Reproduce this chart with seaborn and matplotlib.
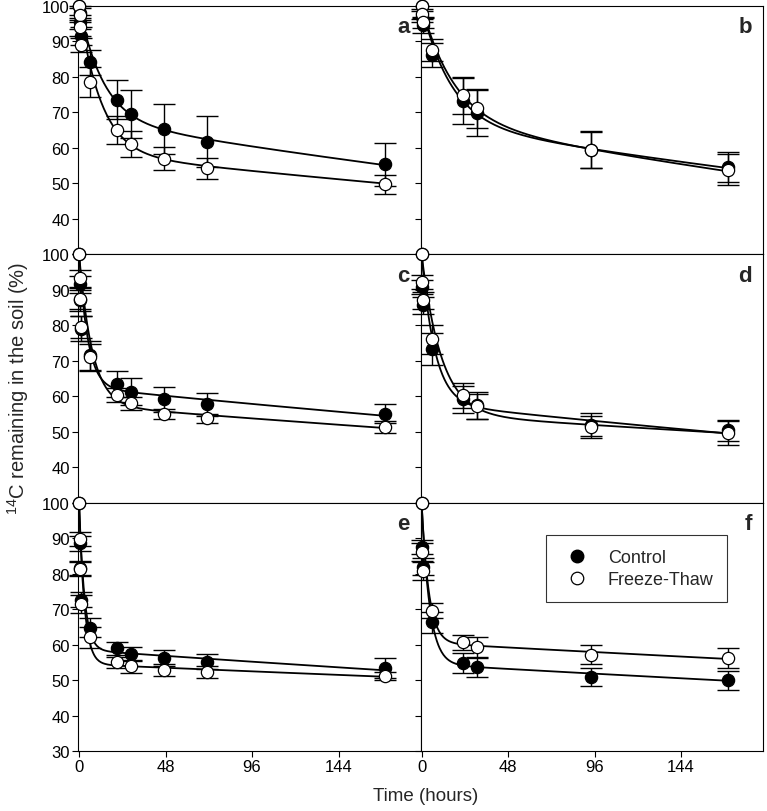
import numpy as np
import matplotlib
matplotlib.use("Agg")
import matplotlib.pyplot as plt
import seaborn as sns
from matplotlib.lines import Line2D

# sampling times (hours)
t_left = [0, 0.25, 0.5, 1, 6, 21, 29, 47, 71, 170]
t_right = [0, 0.25, 1, 6, 23, 30.5, 94, 170]

# panel a
a_ctrl = [100, 98.0, 95.5, 91.6, 84.1, 73.6, 69.5, 65.3, 61.8, 55.4]
a_ctrl_err = [0, 2.0, 2.0, 2.5, 3.5, 5.5, 6.8, 7.0, 7.2, 6.1]
a_ft = [100, 97.5, 94.0, 89.0, 78.6, 65.1, 61.2, 57.0, 54.2, 49.7]
a_ft_err = [0, 2.0, 2.5, 2.0, 4.2, 4.0, 3.7, 3.3, 3.0, 2.7]

# panel b
b_ctrl = [100, 97.0, 94.5, 86.2, 73.2, 69.8, 59.5, 54.6]
b_ctrl_err = [0, 1.5, 2.0, 3.5, 6.5, 6.5, 5.3, 4.2]
b_ft = [100, 97.7, 95.4, 87.6, 74.8, 71.2, 59.4, 53.9]
b_ft_err = [0, 1.5, 1.5, 3.0, 5.3, 5.5, 5.2, 4.3]

# panel c
c_ctrl = [100, 91.5, 87.0, 79.0, 71.5, 63.4, 61.2, 59.1, 57.7, 55.1]
c_ctrl_err = [0, 2.5, 3.0, 3.5, 4.0, 3.7, 3.8, 3.5, 3.3, 2.6]
c_ft = [100, 93.2, 87.5, 79.5, 71.0, 60.3, 58.0, 55.1, 53.8, 51.3]
c_ft_err = [0, 2.5, 3.0, 3.0, 3.8, 2.0, 1.8, 1.4, 1.3, 1.7]

# panel d
d_ctrl = [100, 90.8, 85.6, 73.3, 59.1, 57.4, 52.0, 50.4]
d_ctrl_err = [0, 2.0, 2.5, 4.5, 3.9, 3.8, 3.2, 3.0]
d_ft = [100, 92.2, 87.0, 76.0, 60.3, 57.2, 51.3, 49.6]
d_ft_err = [0, 2.0, 2.5, 4.0, 3.5, 3.5, 3.0, 3.3]

# panel e
e_ctrl = [100, 88.5, 81.5, 72.7, 64.8, 58.9, 57.4, 56.2, 55.1, 53.4]
e_ctrl_err = [0, 2.0, 2.0, 2.0, 2.8, 1.8, 2.0, 2.2, 2.1, 2.8]
e_ft = [100, 89.8, 81.3, 71.5, 62.0, 55.0, 53.9, 52.8, 52.2, 51.1]
e_ft_err = [0, 2.0, 2.0, 2.5, 2.9, 1.6, 1.8, 1.6, 1.7, 1.2]

# panel f
f_ctrl = [100, 87.5, 82.0, 66.3, 54.8, 53.6, 50.8, 49.9]
f_ctrl_err = [0, 2.0, 2.5, 3.0, 2.7, 2.7, 2.6, 2.6]
f_ft = [100, 86.0, 80.8, 69.6, 60.6, 59.3, 57.1, 56.2]
f_ft_err = [0, 2.5, 2.5, 2.2, 2.0, 2.8, 2.7, 2.8]

panels = [
    ("a", t_left, a_ctrl, a_ctrl_err, a_ft, a_ft_err),
    ("b", t_right, b_ctrl, b_ctrl_err, b_ft, b_ft_err),
    ("c", t_left, c_ctrl, c_ctrl_err, c_ft, c_ft_err),
    ("d", t_right, d_ctrl, d_ctrl_err, d_ft, d_ft_err),
    ("e", t_left, e_ctrl, e_ctrl_err, e_ft, e_ft_err),
    ("f", t_right, f_ctrl, f_ctrl_err, f_ft, f_ft_err),
]

# two-pool model y = (100-B) exp(-k1 t) + B exp(-k2 t), grid of parameters
K1, K2, BB = np.meshgrid(np.logspace(-1.3, 1.7, 70),
                         np.concatenate([[0], np.logspace(-4.5, -1.5, 50)]),
                         np.linspace(40, 95, 111), indexing="ij")
K1, K2, BB = K1.ravel(), K2.ravel(), BB.ravel()
SX, SY = 1.8, 3.54   # pixels per hour / per percent


def fit_two_pool(t, y):
    # minimise the (approximate) perpendicular distance as seen on the plot
    t = np.asarray(t, float)[None, :]
    y = np.asarray(y, float)[None, :]
    A = (100 - BB)[:, None]
    e1 = np.exp(-K1[:, None] * t)
    e2 = np.exp(-K2[:, None] * t)
    f = A * e1 + BB[:, None] * e2
    df = -K1[:, None] * A * e1 - K2[:, None] * BB[:, None] * e2
    d = SY * (f - y) / np.sqrt(1 + (SY * df / SX) ** 2)
    j = np.argmin((d ** 2).sum(axis=1))
    tt = np.concatenate([np.linspace(0, 10, 300), np.linspace(10, t.max(), 300)])
    return tt, (100 - BB[j]) * np.exp(-K1[j] * tt) + BB[j] * np.exp(-K2[j] * tt)


sns.set_style("ticks")
plt.rcParams["font.family"] = ["Liberation Sans", "DejaVu Sans"]
plt.rcParams["mathtext.fontset"] = "custom"
plt.rcParams["mathtext.rm"] = "Liberation Sans"
plt.rcParams["mathtext.default"] = "regular"

fig, axes = plt.subplots(3, 2, figsize=(7.67, 8.12), dpi=100,
                         gridspec_kw=dict(wspace=0, hspace=0))
fig.subplots_adjust(left=0.1017, right=0.9948, top=0.9914, bottom=0.0739)

for i, (ax, (lab, t, yc, ec, yf, ef)) in enumerate(zip(axes.flat, panels)):
    row, col = divmod(i, 2)
    t = np.asarray(t, float)

    for y in (yc, yf):
        tt, yy = fit_two_pool(t, y)
        sns.lineplot(x=tt, y=yy, color="black", lw=1.3, ax=ax, zorder=2,
                     sort=False, estimator=None)

    for y, e, face in ((yc, ec, "black"), (yf, ef, "white")):
        y = np.asarray(y, float)
        e = np.asarray(e, float)
        m = e > 0
        eb = ax.errorbar(t[m], y[m], yerr=e[m], fmt="none", ecolor="black",
                         elinewidth=1.0, capsize=7.8, capthick=1.0, zorder=3)
        for art in eb.lines[1] + eb.lines[2]:
            art.set_clip_on(False)
        sns.scatterplot(x=t, y=y, s=78, color=face, edgecolor="black",
                        linewidth=0.9, ax=ax, zorder=4)
        ax.collections[-1].set_clip_on(False)

    ax.set_xlim(-0.6, 189.5)
    ax.set_ylim(30, 100)
    ax.set_yticks(range(30, 101, 10))
    if col == 0:
        labels = [str(v) for v in range(30, 101, 10)]
        if row < 2:
            labels[0] = ""
        ax.set_yticklabels(labels)
    else:
        ax.set_yticklabels([])
    ax.set_xticks([0, 48, 96, 144])
    if row < 2:
        ax.tick_params(axis="x", bottom=False, labelbottom=False)
    ax.tick_params(direction="out", length=4, width=0.8, labelsize=12,
                   colors="black", pad=2)
    for sp in ax.spines.values():
        sp.set_visible(True)
        sp.set_linewidth(0.8)
        sp.set_color("black")
    ax.set_xlabel("")
    ax.set_ylabel("")
    ax.text(0.968, 0.958, lab, transform=ax.transAxes, ha="right", va="top",
            fontsize=16, fontweight="bold")

handles = [
    Line2D([], [], marker="o", ls="none", color="black", markerfacecolor="black",
           markersize=9, label="Control"),
    Line2D([], [], marker="o", ls="none", color="black", markerfacecolor="white",
           markeredgewidth=0.9, markersize=9, label="Freeze-Thaw"),
]
leg = axes[2, 1].legend(handles=handles, loc="upper left",
                        bbox_to_anchor=(0.365, 0.868), fontsize=13,
                        frameon=True, fancybox=False, edgecolor="black",
                        borderpad=0.75, handletextpad=0.7, labelspacing=0.3,
                        borderaxespad=0)
leg.get_frame().set_linewidth(0.8)

fig.text(426 / 767, 1 - 797 / 812, "Time (hours)", ha="center", va="center",
         fontsize=13.5)
fig.text(18 / 767, 1 - 388 / 812, "$^{14}$C remaining in the soil (%)",
         ha="center", va="center", rotation=90, fontsize=14.5)

fig.savefig("out.png", dpi=100)
